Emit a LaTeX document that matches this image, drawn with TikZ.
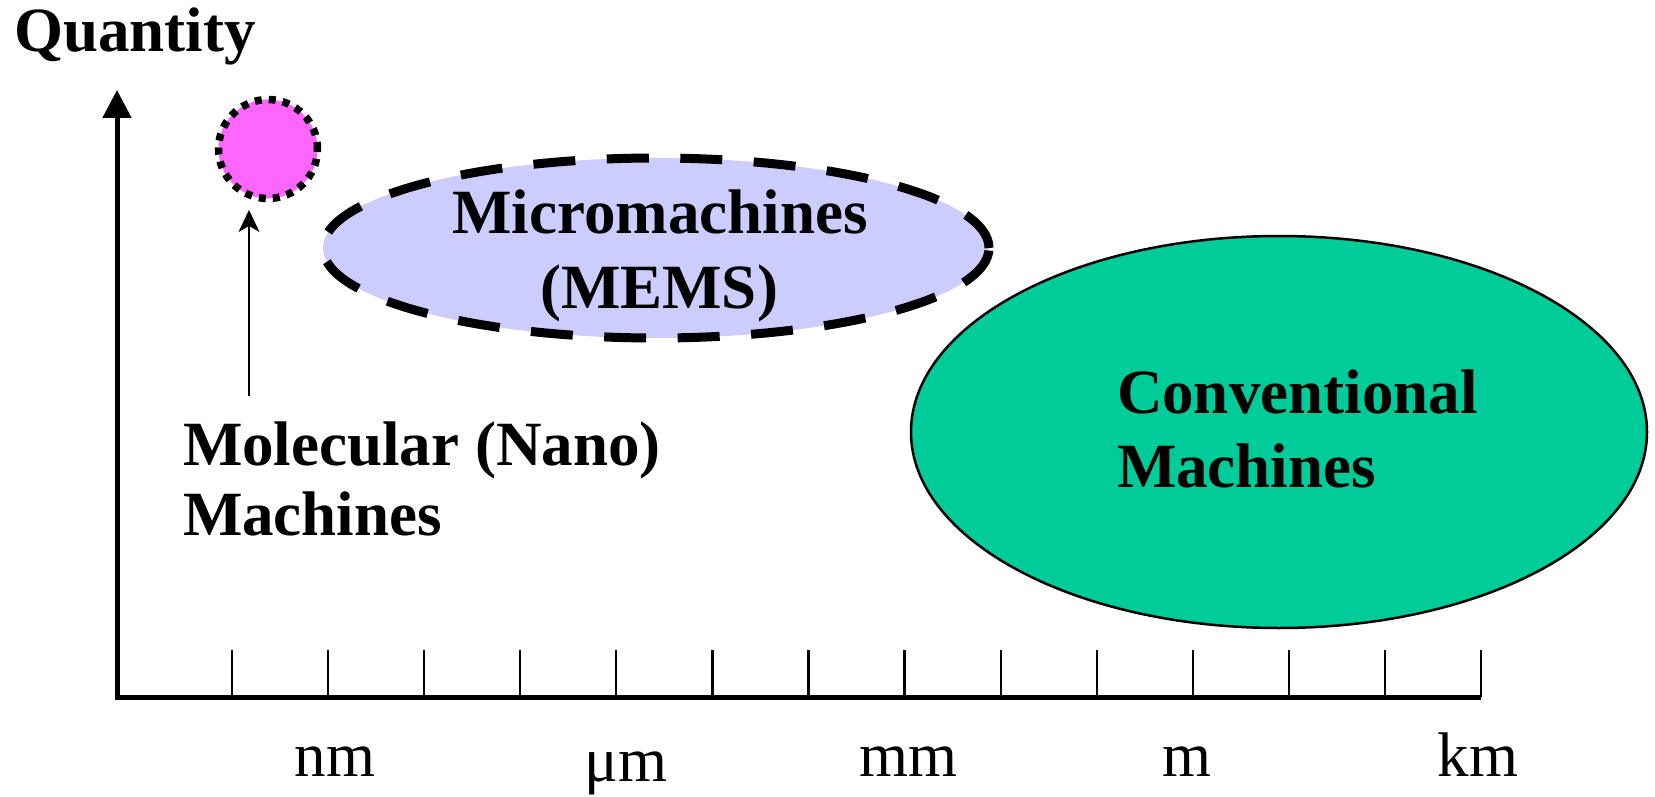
\documentclass[tikz,border=0pt]{standalone}
\usepackage{fontspec}
\setmainfont{Liberation Serif}
\usetikzlibrary{shapes.geometric,arrows.meta}
\definecolor{nanopink}{HTML}{FF66FF}
\definecolor{memsblue}{HTML}{CCCCFF}
\definecolor{convgreen}{HTML}{00CC99}
\begin{document}
\begin{tikzpicture}[x=1pt,y=-1pt,
  lbl/.style={font=\fontsize{63}{74}\selectfont\bfseries, inner sep=0pt, outer sep=0pt},
  unitlbl/.style={font=\fontsize{63}{74}\selectfont, inner sep=0pt, outer sep=0pt},
  axisline/.style={line width=5pt},
  tickline/.style={line width=2.2pt},
  memsshape/.style={ellipse, minimum width=666pt, minimum height=180pt, inner sep=0pt,
    fill=memsblue},
  memsedge/.style={draw=black, line width=9pt, dash pattern=on 42pt off 31.5pt},
  convshape/.style={ellipse, minimum width=736pt, minimum height=392pt, inner sep=0pt,
    fill=convgreen, draw=black, line width=2.5pt},
  nanoshape/.style={circle, minimum size=99pt, inner sep=0pt, fill=nanopink},
  nanoedge/.style={draw=black, line width=7.5pt, dash pattern=on 7pt off 7pt},
  pointer/.style={line width=2pt, -{Stealth[length=22pt,width=21pt,inset=6pt]}}]
\useasboundingbox (0,0) rectangle (1655,797);

% shapes
\node[memsshape] (mems) at (656,248) {};
\draw[memsedge] (mems.center) ellipse [x radius=333pt, y radius=90pt];
\node[convshape] (conv) at (1279,432) {};
\node[nanoshape] (nano) at (268,149) {};
\draw[nanoedge] (nano.center) circle [radius=49.5pt];

% axes
\coordinate (origin) at (117,697);
\coordinate (ytop) at (117,90);
\coordinate (xend) at (1481,697);
\draw[axisline, {Triangle[length=28pt,width=28pt]}-] (ytop) -- (origin) -- (xend);
\foreach \i in {1,...,14} {
  \coordinate (t\i) at ({232+96.08*(\i-1)},650);
  \draw[tickline] (t\i) -- (t\i |- origin);
}

% unit labels
\node[unitlbl, anchor=base] (nm) at (335,776) {nm};
\node[unitlbl, anchor=base] (um) at (626,781) {μm};
\node[unitlbl, anchor=base] (mm) at (908,776) {mm};
\node[unitlbl, anchor=base] (m) at (1187,776) {m};
\node[unitlbl, anchor=base] (km) at (1478,776) {km};

% texts
\node[lbl, anchor=base west] (qty) at (14,52) {Quantity};
\node[lbl, anchor=base] (memsA) at (660,233) {Micromachines};
\node[lbl, anchor=base] (memsB) at (659,308) {(MEMS)};
\node[lbl, anchor=base west] (convA) at (1117,413) {Conventional};
\node[lbl, anchor=base west] (convB) at (1117,487) {Machines};
\node[lbl, anchor=base west] (molA) at (183,465) {Molecular (Nano)};
\node[lbl, anchor=base west] (molB) at (183,535) {Machines};

% pointer to nano machines
\coordinate (nanotail) at (249,396);
\coordinate (nanotip) at (249,210);
\draw[pointer] (nanotail) -- (nanotip);
\end{tikzpicture}
\end{document}
